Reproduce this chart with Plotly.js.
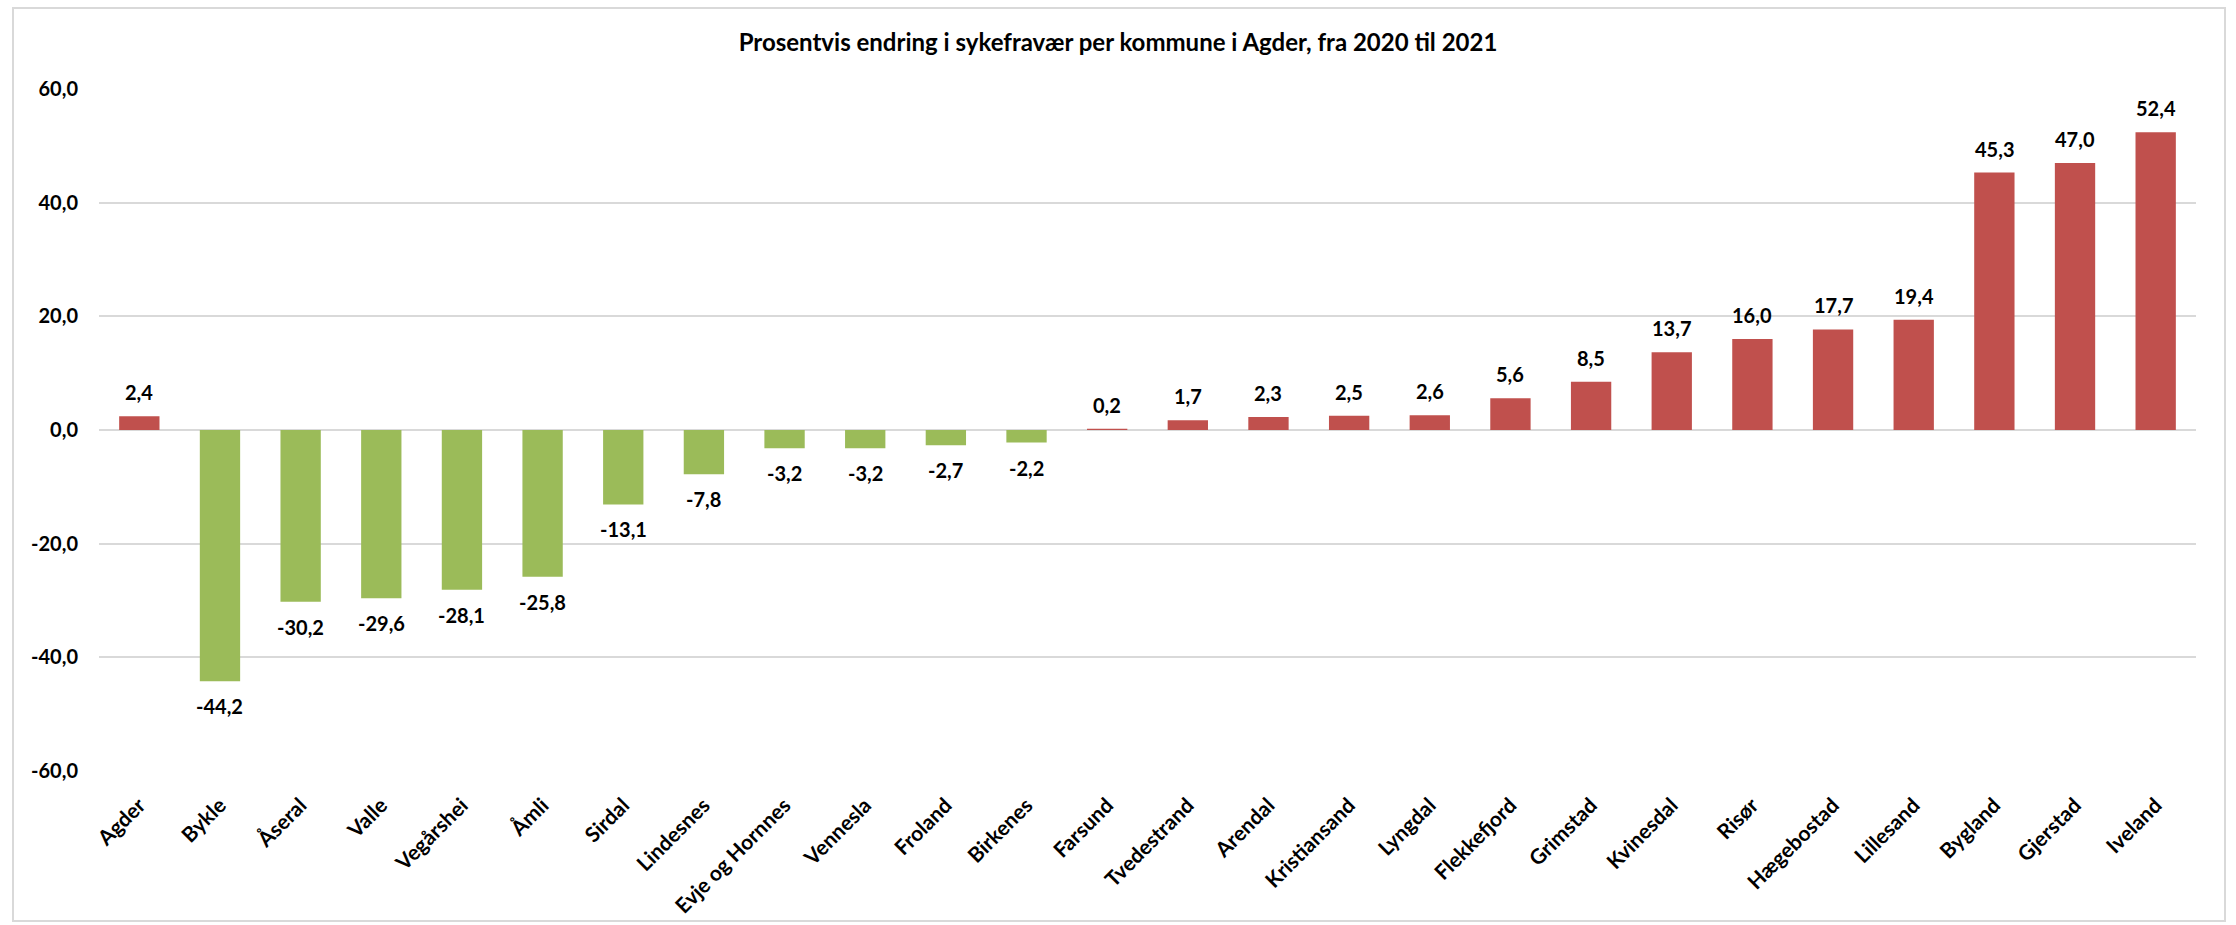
<!DOCTYPE html>
<html>
<head>
<meta charset="utf-8">
<script src="https://cdn.plot.ly/plotly-3.0.1.min.js"></script>
<style>
  html, body { margin: 0; padding: 0; background: #fff; }
  #chart { width: 2236px; height: 925px; }
  #frame { position: absolute; left: 12px; top: 7px; width: 2210px; height: 911px;
           border: 2px solid #D9D9D9; pointer-events: none; }
</style>
</head>
<body>
<div id="chart"></div>
<div id="frame"></div>
<script>
const titleText = "Prosentvis endring i sykefravær per kommune i Agder, fra 2020 til 2021";

const kommuner = ["Agder", "Bykle", "Åseral", "Valle", "Vegårshei", "Åmli", "Sirdal", "Lindesnes",
  "Evje og Hornnes", "Vennesla", "Froland", "Birkenes", "Farsund", "Tvedestrand", "Arendal",
  "Kristiansand", "Lyngdal", "Flekkefjord", "Grimstad", "Kvinesdal", "Risør", "Hægebostad",
  "Lillesand", "Bygland", "Gjerstad", "Iveland"];

const endring = [2.4, -44.2, -30.2, -29.6, -28.1, -25.8, -13.1, -7.8,
  -3.2, -3.2, -2.7, -2.2, 0.2, 1.7, 2.3,
  2.5, 2.6, 5.6, 8.5, 13.7, 16.0, 17.7,
  19.4, 45.3, 47.0, 52.4];

const yTicks = [-60, -40, -20, 0, 20, 40, 60];

const RED = "#C0504D";
const GREEN = "#9BBB59";
const FONT = "Lato, 'Open Sans', sans-serif";

const fmt = v => v.toFixed(1).replace(".", ",");

const trace = {
  type: "bar",
  x: kommuner,
  y: endring,
  marker: { color: endring.map(v => v >= 0 ? RED : GREEN) },
  hoverinfo: "x+y"
};

const annotations = kommuner.map((k, i) => ({
  x: k,
  y: endring[i],
  xref: "x",
  yref: "y",
  text: fmt(endring[i]),
  showarrow: false,
  yanchor: "middle",
  yshift: endring[i] >= 0 ? 24 : -25,
  font: { family: FONT, size: 20, color: "#000", weight: 700 }
}));

const layout = {
  width: 2236,
  height: 925,
  paper_bgcolor: "#fff",
  plot_bgcolor: "#fff",
  separators: ", ",
  margin: { l: 99, r: 40, t: 89, b: 154 },
  title: {
    text: titleText,
    x: 0.5,
    xref: "container",
    xanchor: "center",
    y: 1 - 43 / 925,
    yref: "container",
    yanchor: "middle",
    font: { family: FONT, size: 24, color: "#000", weight: 700 }
  },
  bargap: 0.5,
  showlegend: false,
  xaxis: {
    type: "category",
    tickangle: -45,
    showgrid: false,
    showline: false,
    zeroline: false,
    ticks: "",
    ticklabelstandoff: 17,
    tickfont: { family: FONT, size: 21, color: "#000", weight: 700 }
  },
  yaxis: {
    range: [-60, 60],
    tickvals: yTicks,
    ticktext: yTicks.map(fmt),
    showgrid: true,
    gridcolor: "#D9D9D9",
    gridwidth: 2,
    zeroline: false,
    showline: false,
    ticks: "",
    ticklabelstandoff: 20,
    tickfont: { family: FONT, size: 20, color: "#000", weight: 700 }
  },
  annotations: annotations
};

Plotly.newPlot("chart", [trace], layout, { displayModeBar: false, staticPlot: true });
</script>
</body>
</html>
